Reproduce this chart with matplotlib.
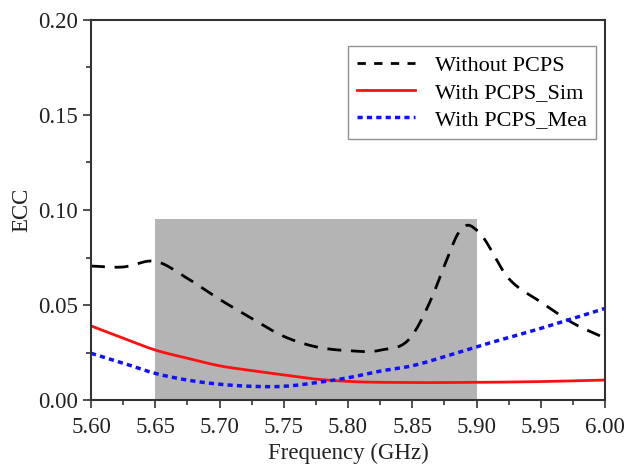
import numpy as np
from matplotlib import pyplot as plt
from matplotlib.ticker import MultipleLocator

# ECC readings
freq_without = [5.60, 5.625, 5.65, 5.675, 5.70, 5.725, 5.75, 5.775, 5.80, 5.825, 5.85,
                5.864, 5.877, 5.886, 5.893, 5.90, 5.925, 5.95, 5.975, 6.00]
ecc_without = [0.0705, 0.0700, 0.0730, 0.0640, 0.0530, 0.0430, 0.0335, 0.0280, 0.0260, 0.0262, 0.0340,
               0.0520, 0.0740, 0.0880, 0.0920, 0.0895, 0.0640, 0.0516, 0.0405, 0.0326]

freq_sim = [5.60, 5.625, 5.65, 5.675, 5.70, 5.725, 5.75, 5.775, 5.80, 5.85, 5.90, 5.95, 6.00]
ecc_sim = [0.0390, 0.0326, 0.0263, 0.0220, 0.0180, 0.0155, 0.0132, 0.0110, 0.0098, 0.0092, 0.0093, 0.0097, 0.0105]

freq_mea = [5.60, 5.625, 5.65, 5.675, 5.70, 5.725, 5.75, 5.775, 5.80, 5.825, 5.85, 5.875, 5.90, 5.95, 6.00]
ecc_mea = [0.0246, 0.0194, 0.0140, 0.0105, 0.0083, 0.0072, 0.0072, 0.0091, 0.0117, 0.0152, 0.0180, 0.0228, 0.0280, 0.0377, 0.0482]

band = (5.65, 5.90)
band_top = 0.095


def smooth(x, y, n=300):
    # cubic hermite through the read points
    xs = np.linspace(x[0], x[-1], n)
    x = np.asarray(x, float)
    y = np.asarray(y, float)
    m = np.gradient(y, x)
    ys = np.empty_like(xs)
    for k, xv in enumerate(xs):
        i = min(np.searchsorted(x, xv, side="right") - 1, len(x) - 2)
        h = x[i + 1] - x[i]
        t = (xv - x[i]) / h
        h00 = 2 * t**3 - 3 * t**2 + 1
        h10 = t**3 - 2 * t**2 + t
        h01 = -2 * t**3 + 3 * t**2
        h11 = t**3 - t**2
        ys[k] = h00 * y[i] + h10 * h * m[i] + h01 * y[i + 1] + h11 * h * m[i + 1]
    return xs, ys


plt.rcParams['font.family'] = ['Liberation Serif', 'DejaVu Serif']

fig = plt.figure(figsize=(6.38, 4.65), dpi=100)
ax = fig.add_axes([91 / 638, 65 / 465, (605 - 91) / 638, (400 - 20) / 465])

ax.fill_between(band, 0, band_top, color='#b4b4b4', lw=0, zorder=0)

xs, ys = smooth(freq_without, ecc_without)
ax.plot(xs, ys, color='black', lw=2, dashes=(5, 3.5), label='Without PCPS')
xs, ys = smooth(freq_sim, ecc_sim)
ax.plot(xs, ys, color='#ff1010', lw=2, label='With PCPS_Sim')
xs, ys = smooth(freq_mea, ecc_mea)
ax.plot(xs, ys, color='#1010ff', lw=2.5, dashes=(1.5, 1.2), label='With PCPS_Mea')

ax.set_xlim(5.60, 6.00)
ax.set_ylim(0, 0.20)
ax.xaxis.set_major_locator(MultipleLocator(0.05))
ax.xaxis.set_minor_locator(MultipleLocator(0.025))
ax.yaxis.set_major_locator(MultipleLocator(0.05))
ax.yaxis.set_minor_locator(MultipleLocator(0.025))
ax.xaxis.set_major_formatter(plt.FormatStrFormatter('%.2f'))
ax.yaxis.set_major_formatter(plt.FormatStrFormatter('%.2f'))
ax.tick_params(which='major', direction='out', length=6, width=1.2, labelsize=16.5,
               colors='#333333', labelcolor='#222222')
ax.tick_params(axis='x', which='major', pad=6)
ax.tick_params(which='minor', direction='out', length=3.5, width=1.2, colors='#333333')
for s in ax.spines.values():
    s.set_linewidth(1.5)
    s.set_color('#333333')

ax.set_xlabel('Frequency (GHz)', fontsize=16.5, color='#222222', labelpad=4)
ax.set_ylabel('ECC', fontsize=16.5, color='#222222', labelpad=4)

leg = ax.legend(loc='upper right', bbox_to_anchor=(0.982, 0.931), borderaxespad=0,
                fontsize=16, frameon=True, fancybox=False, edgecolor='#777777',
                handlelength=2.6, handletextpad=0.9, labelspacing=0.3, borderpad=0.4)
leg.get_frame().set_linewidth(1.0)
leg.get_lines()[0].set_dashes((3, 3))

fig.savefig('out.png', dpi=100)
